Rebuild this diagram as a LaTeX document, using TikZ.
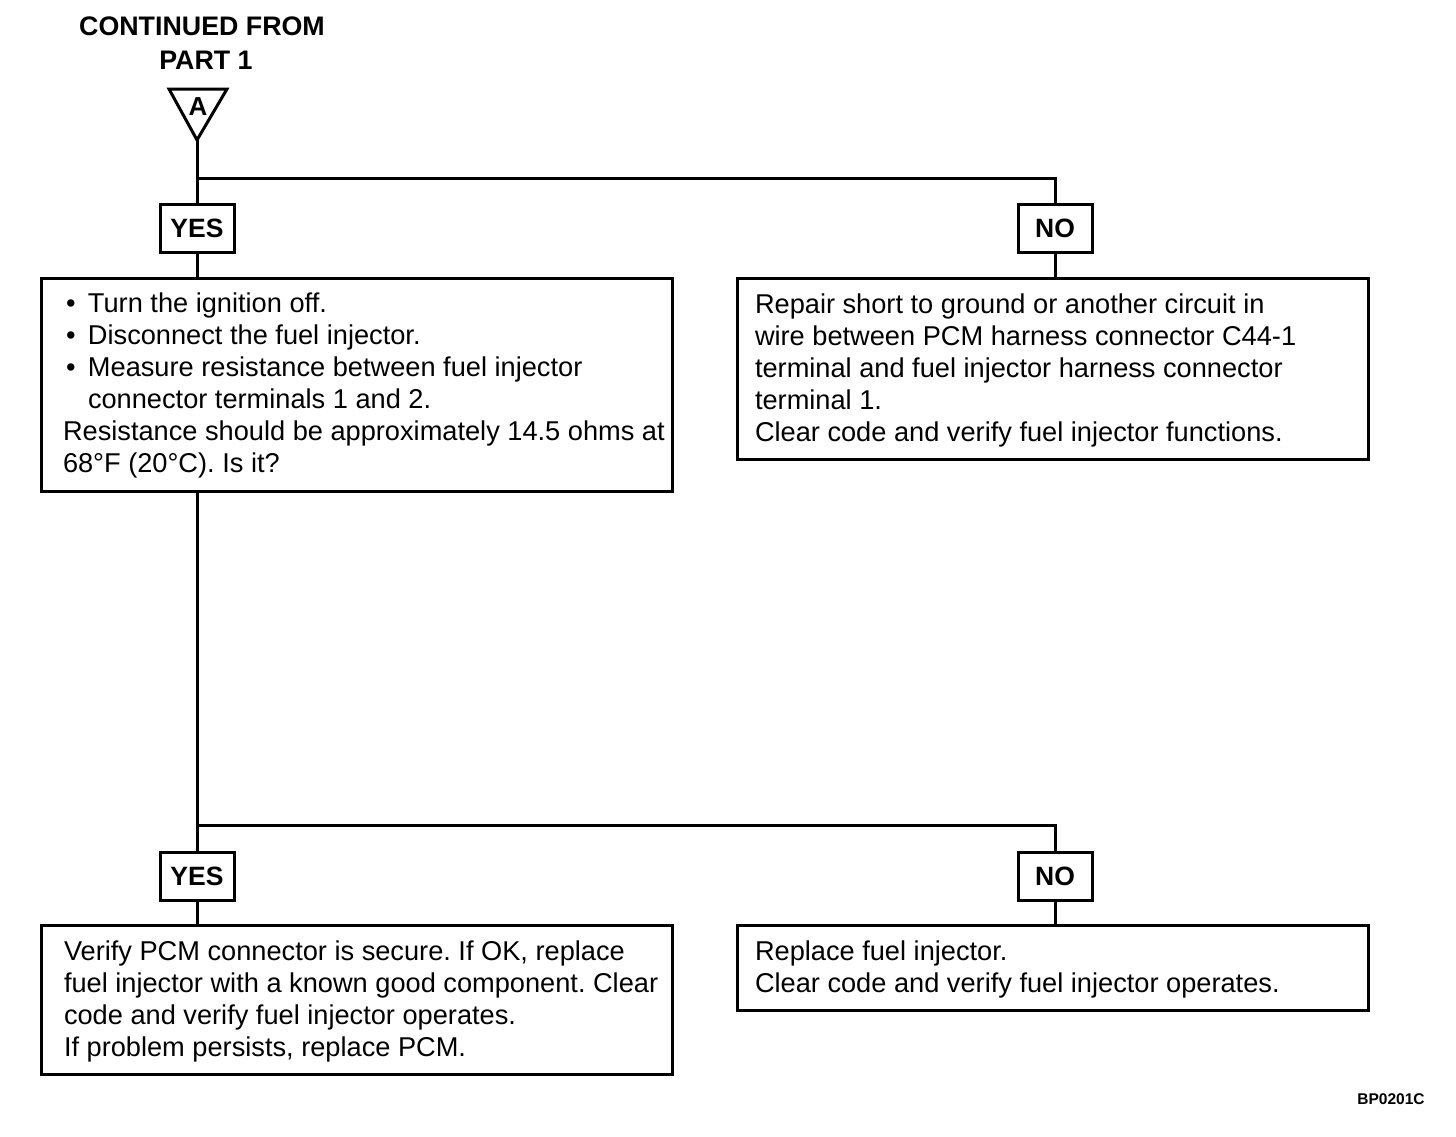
\documentclass[tikz,border=0pt]{standalone}
\usepackage{fontspec}
\setmainfont{Liberation Sans}
\usetikzlibrary{calc}
\frenchspacing
\begin{document}
\begin{tikzpicture}[x=1pt,y=-1pt,
  line width=3pt,
  conn/.style={draw, line width=3pt},
  box/.style={draw, line width=3pt, rectangle, inner sep=0pt, anchor=north west},
  lbl/.style={draw, line width=3pt, rectangle, minimum width=74pt, minimum height=48pt, inner sep=0pt, font=\fontsize{26.5}{30}\selectfont\bfseries},
  txt/.style={anchor=north west, inner sep=0pt, align=left, font=\fontsize{27.2}{32}\selectfont},
  head/.style={anchor=base, inner sep=0pt, font=\fontsize{26.8}{30}\selectfont\bfseries}]
\useasboundingbox (0,0) rectangle (1456,1136);

% heading
\node[head] (cont) at (202,35) {CONTINUED FROM};
\node[head] (part) at (206,69) {PART 1};

% off-page connector triangle
\draw[line width=3pt, line join=miter] (169,89) -- (227,89) -- (197,140) -- cycle;
\coordinate (tipA) at (197,140);
\node[anchor=base, inner sep=0pt, font=\fontsize{26}{28}\selectfont\bfseries] (A) at (198,115) {A};

% first decision
\coordinate (split1) at (197,178);
\node[lbl] (yes1) at (197,228) {YES};
\node[lbl] (no1) at (1055,228) {NO};

\node[box, minimum width=631pt, minimum height=213pt] (b1) at (40,277) {};
\node[box, minimum width=631pt, minimum height=181pt] (b2) at (736,277) {};

\node[txt] (t1) at (61.5,291.5) {\makebox[25pt][l]{\hspace{3pt}•}Turn the ignition off.\\
\makebox[25pt][l]{\hspace{3pt}•}Disconnect the fuel injector.\\
\makebox[25pt][l]{\hspace{3pt}•}Measure resistance between fuel injector\\
\hspace{25pt}connector terminals 1 and 2.\\
Resistance should be approximately 14.5 ohms at\\
68°F (20°C). Is it?};

\node[txt] (t2) at (753.5,292.5) {Repair short to ground or another circuit in\\
wire between PCM harness connector C44-1\\
terminal and fuel injector harness connector\\
terminal 1.\\
Clear code and verify fuel injector functions.};

% second decision
\coordinate (split2) at (197,825);
\node[lbl] (yes2) at (197,876) {YES};
\node[lbl] (no2) at (1055,876) {NO};

\node[box, minimum width=631pt, minimum height=149pt] (b3) at (40,924) {};
\node[box, minimum width=631pt, minimum height=85pt] (b4) at (736,924) {};

\node[txt] (t3) at (62.5,939.5) {Verify PCM connector is secure. If OK, replace\\
fuel injector with a known good component. Clear\\
code and verify fuel injector operates.\\
If problem persists, replace PCM.};

\node[txt] (t4) at (753.5,939.5) {Replace fuel injector.\\
Clear code and verify fuel injector operates.};

% connectors
\draw[conn] (tipA) -- (yes1.north);
\draw[conn] (split1) -| (no1.north);
\draw[conn] (yes1.south) -- (yes1.south |- b1.north);
\draw[conn] (no1.south) -- (no1.south |- b2.north);
\draw[conn] (yes1.south |- b1.south) -- (yes2.north);
\draw[conn] (split2) -| (no2.north);
\draw[conn] (yes2.south) -- (yes2.south |- b3.north);
\draw[conn] (no2.south) -- (no2.south |- b4.north);

\node[anchor=base, inner sep=0pt, font=\fontsize{15.5}{17}\selectfont\bfseries] (code) at (1391,1104) {BP0201C};
\end{tikzpicture}
\end{document}
